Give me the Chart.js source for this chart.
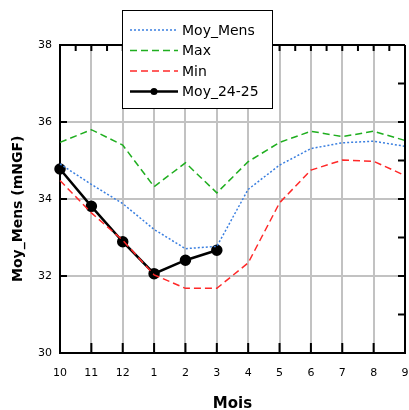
<!DOCTYPE html>
<html>
<head>
<meta charset="utf-8">
<script src="https://cdn.jsdelivr.net/npm/chart.js@4.4.1/dist/chart.umd.min.js"></script>
<style>
  html, body { margin: 0; padding: 0; background: #fff; }
  #wrap { width: 409px; height: 410px; }
</style>
</head>
<body>
<div id="wrap"><canvas id="graph" width="409" height="410"></canvas></div>
<script>
// Mois hydrologiques (octobre -> septembre)
const mois = ['10', '11', '12', '1', '2', '3', '4', '5', '6', '7', '8', '9'];
const moyMens = [34.91, 34.38, 33.88, 33.21, 32.71, 32.77, 34.25, 34.88, 35.31, 35.46, 35.50, 35.37];
const maxi = [35.47, 35.80, 35.40, 34.32, 34.94, 34.16, 34.97, 35.47, 35.76, 35.62, 35.76, 35.52];
const mini = [34.48, 33.64, 32.93, 32.03, 31.68, 31.68, 32.34, 33.90, 34.75, 35.01, 34.98, 34.61];
const moy2425 = [34.78, 33.81, 32.89, 32.06, 32.41, 32.67];
const yTicks = [30, 32, 34, 36, 38];

const police = 'Verdana, "DejaVu Sans", sans-serif';

// traits de graduation vers l'intérieur + légende encadrée
const cadrePlugin = {
    id: 'cadre',
    afterDraw(chart) {
        const c = chart.ctx, a = chart.chartArea;
        const x = chart.scales.x, y = chart.scales.y;
        c.save();
        c.strokeStyle = '#000';
        c.lineWidth = 2;
        c.beginPath();
        c.moveTo(a.right, a.top); c.lineTo(a.right, a.bottom);
        c.moveTo(a.left, a.top); c.lineTo(a.right, a.top);
        for (let v = 30; v <= 38; v++) {
            const py = y.getPixelForValue(v);
            c.moveTo(a.right, py); c.lineTo(a.right - 7, py);
            if (v % 2 === 0) { c.moveTo(a.left, py); c.lineTo(a.left + 7, py); }
        }
        for (let i = 0; i < mois.length; i++) {
            const px = x.getPixelForValue(i);
            c.moveTo(px, a.bottom); c.lineTo(px, a.bottom - 10);
            c.moveTo(px, a.top); c.lineTo(px, a.top + 6);
            if (i < mois.length - 1) {
                const pm = (px + x.getPixelForValue(i + 1)) / 2;
                c.moveTo(pm, a.top); c.lineTo(pm, a.top + 6);
            }
        }
        c.stroke();

        // légende
        const lx = 122, ly = 10, lw = 150, lh = 98;
        c.fillStyle = '#fff';
        c.fillRect(lx, ly, lw, lh);
        c.lineWidth = 1;
        c.strokeStyle = '#000';
        c.strokeRect(lx + 0.5, ly + 0.5, lw, lh);
        c.font = '14px ' + police;
        c.textBaseline = 'middle';
        chart.data.datasets.forEach((ds, i) => {
            const cy = ly + 20 + i * 20.5;
            c.strokeStyle = ds.borderColor;
            c.lineWidth = ds.borderWidth;
            c.setLineDash(ds.borderDash || []);
            c.beginPath();
            c.moveTo(lx + 8, cy); c.lineTo(lx + 56, cy);
            c.stroke();
            c.setLineDash([]);
            if (ds.pointRadius > 0) {
                c.fillStyle = ds.pointBackgroundColor;
                c.beginPath();
                c.arc(lx + 32, cy, 3.5, 0, Math.PI * 2);
                c.fill();
            }
            c.fillStyle = '#000';
            c.fillText(ds.label, lx + 60, cy + 1);
        });
        c.restore();
    }
};

new Chart(document.getElementById('graph'), {
    type: 'line',
    data: {
        labels: mois,
        datasets: [
            { label: 'Moy_Mens', data: moyMens, borderColor: '#3a7fe0', borderWidth: 1.5, borderDash: [2, 2], pointRadius: 0, tension: 0 },
            { label: 'Max', data: maxi, borderColor: '#1fae1f', borderWidth: 1.5, borderDash: [7, 4], pointRadius: 0, tension: 0 },
            { label: 'Min', data: mini, borderColor: '#ff2828', borderWidth: 1.5, borderDash: [7, 4], pointRadius: 0, tension: 0 },
            { label: 'Moy_24-25', data: moy2425, borderColor: '#000', borderWidth: 2.5, pointRadius: 4.5,
              pointBackgroundColor: '#000', pointBorderColor: '#000', tension: 0 }
        ]
    },
    options: {
        responsive: false,
        animation: false,
        layout: { autoPadding: false, padding: { top: 45, right: 4, left: 0, bottom: 0 } },
        plugins: { legend: { display: false }, tooltip: { enabled: false } },
        scales: {
            x: {
                offset: false,
                grid: { color: '#c2c2c2', lineWidth: 2, drawTicks: false },
                border: { color: '#000', width: 2 },
                ticks: { color: '#000', font: { family: police, size: 11 }, padding: 14, maxRotation: 0 },
                title: { display: true, text: 'Mois', color: '#000', font: { family: police, size: 15, weight: 'bold' }, padding: { top: 20, bottom: -3 } },
                afterFit(s) { s.height = 57; s.paddingLeft = 0; s.paddingRight = 0; }
            },
            y: {
                min: 30, max: 38,
                afterBuildTicks(s) { s.ticks = yTicks.map(v => ({ value: v })); },
                grid: { color: '#c2c2c2', lineWidth: 2, drawTicks: false },
                border: { color: '#000', width: 2 },
                ticks: { color: '#000', font: { family: police, size: 11 }, padding: 8 },
                title: { display: true, text: 'Moy_Mens (mNGF)    ', color: '#000', font: { family: police, size: 14, weight: 'bold' }, padding: { top: 10, bottom: 0 } },
                afterFit(s) { s.width = 60; s.paddingTop = 0; s.paddingBottom = 0; }
            }
        }
    },
    plugins: [cadrePlugin]
});
</script>
</body>
</html>
